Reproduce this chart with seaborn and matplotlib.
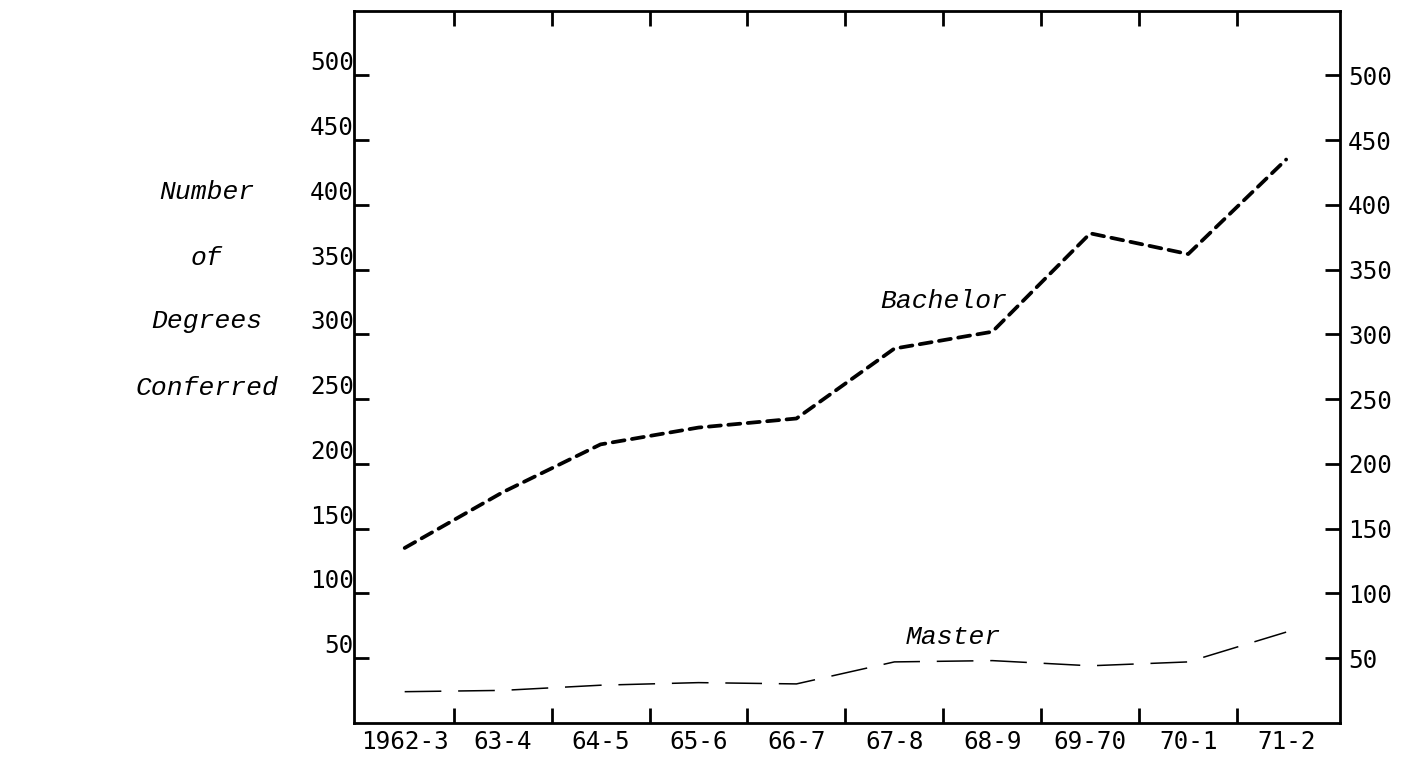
import numpy as np
import pandas as pd
import seaborn as sns
import matplotlib.pyplot as plt
from matplotlib.ticker import FixedLocator, NullFormatter
from matplotlib.transforms import ScaledTranslation

# Degrees conferred per academic year
years = ["1962-3", "63-4", "64-5", "65-6", "66-7", "67-8", "68-9", "69-70", "70-1", "71-2"]
bachelor = [135, 178, 215, 228, 235, 289, 302, 378, 362, 435]
master = [24, 25, 29, 31, 30, 47, 48, 44, 47, 70]
y_ticks = [50, 100, 150, 200, 250, 300, 350, 400, 450, 500]

df = pd.DataFrame({"pos": np.arange(len(years)), "year": years,
                   "Bachelor": bachelor, "Master": master})

sns.set_style("white")
plt.rcParams["font.family"] = ["DejaVu Sans Mono", "DejaVu Sans"]

fig = plt.figure(figsize=(14.15, 7.6), dpi=100)
ax = fig.add_axes([0.250, 0.049, 0.697, 0.937])

# thick short dashes for bachelor, thin long dashes for master
sns.lineplot(data=df, x="pos", y="Bachelor", ax=ax, color="black",
             linewidth=2.7, linestyle=(0, (3.2, 2.0)), dash_capstyle="round")
sns.lineplot(data=df, x="pos", y="Master", ax=ax, color="black",
             linewidth=1.1, linestyle=(0, (24, 11)))

ax.set_xlim(-0.52, 9.55)
ax.set_ylim(0, 550)

for s in ax.spines.values():
    s.set_visible(True)
    s.set_color("black")
    s.set_linewidth(2.0)

# major x ticks sit between the years, year labels on minor positions
ax.xaxis.set_major_locator(FixedLocator(np.arange(len(years) - 1) + 0.5))
ax.xaxis.set_major_formatter(NullFormatter())
ax.xaxis.set_minor_locator(FixedLocator(df["pos"]))
ax.set_xticklabels(years, minor=True)
ax.tick_params(axis="x", which="major", direction="in", length=11, width=2,
               top=True, bottom=True, color="black")
ax.tick_params(axis="x", which="minor", length=0, pad=5, labelsize=17.5,
               labelcolor="black")

ax.set_yticks(y_ticks)
ax.set_yticklabels([str(v) for v in y_ticks])
ax.tick_params(axis="y", direction="in", length=11, width=2, left=True,
               right=True, labelleft=True, labelright=True, labelsize=17.5,
               color="black", labelcolor="black", pad=0)
for t in ax.yaxis.get_major_ticks():
    t.label1.set_verticalalignment("bottom")
    t.label2.set_x(1.0)
    t.label2.set_horizontalalignment("left")
    t.label2.set_transform(ax.get_yaxis_transform() +
                           ScaledTranslation(8 / 100, 0, fig.dpi_scale_trans))

ax.set_xlabel("")
ax.set_ylabel("")

mono = dict(family=["Liberation Mono", "DejaVu Sans Mono"], style="italic",
            fontsize=19, color="black")
for txt, yy in zip(["Number", "of", "Degrees", "Conferred"], [0.748, 0.661, 0.577, 0.489]):
    fig.text(0.146, yy, txt, ha="center", va="center", **mono)

ax.text(5.5, 326, "Bachelor", ha="center", va="center", **mono)
ax.text(5.6, 66, "Master", ha="center", va="center", **mono)

fig.savefig("out.png", dpi=100)
